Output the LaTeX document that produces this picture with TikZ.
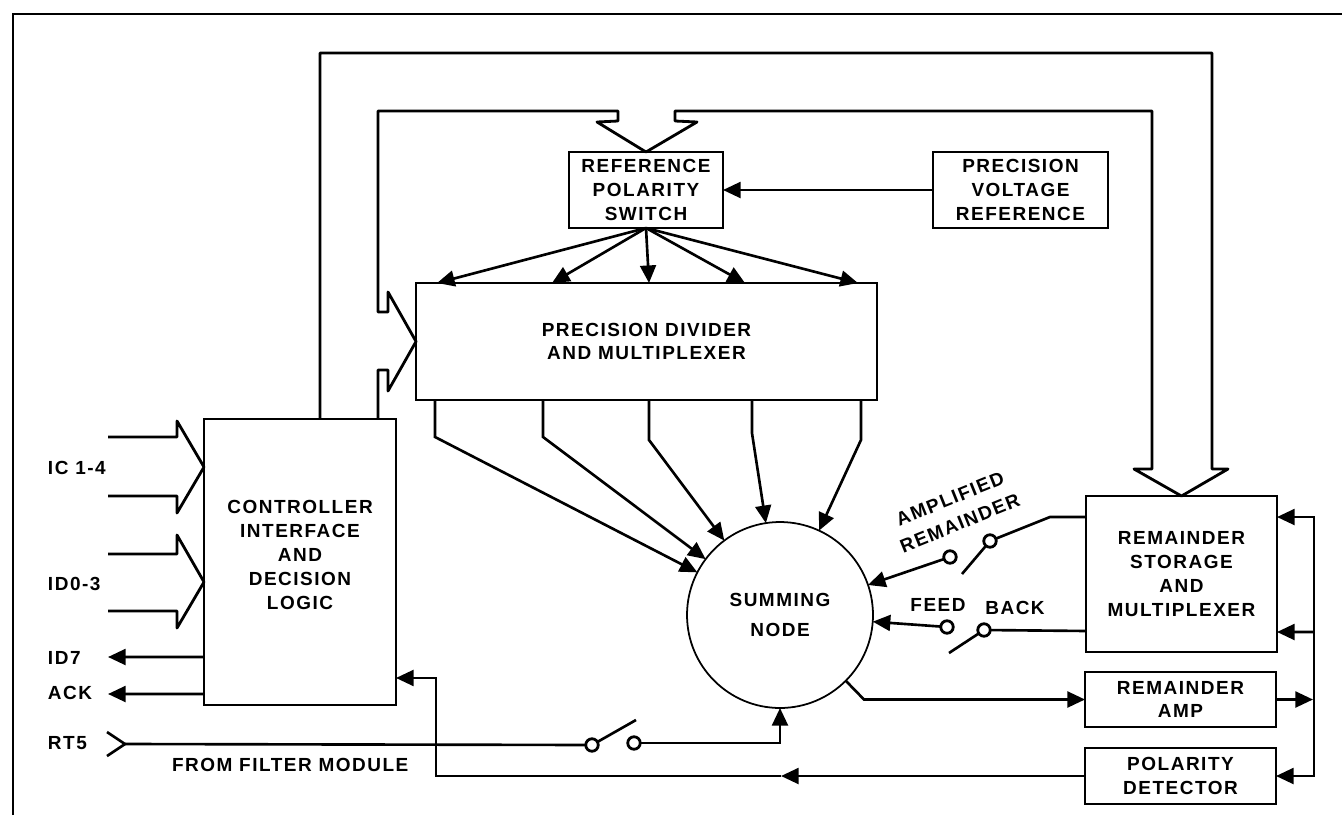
\documentclass[tikz,border=0pt]{standalone}
\usepackage{fontspec}
\setmainfont{Liberation Sans}[LetterSpace=8]
\usetikzlibrary{arrows.meta}
\begin{document}
\begin{tikzpicture}[x=0.02cm,y=-0.02cm,
  font=\fontsize{10.8}{13.6}\selectfont\bfseries,
  box/.style={draw,line width=1.1pt,align=center,inner sep=0pt,outer sep=0pt},
  wire/.style={line width=1.5pt,line join=miter},
  tipA/.tip={Triangle[length=10pt,width=9pt]},
  arr/.style={wire,-tipA},
  bus/.style={line width=1.6pt,line join=round},
  term/.style={draw,line width=1.6pt,fill=white,circle,inner sep=0pt,outer sep=0pt,minimum size=0.25cm},
  lab/.style={inner sep=0pt,outer sep=0pt}]
\useasboundingbox (0,0) rectangle (1342,815);
% frame
\draw[line width=0.9pt] (13,815) -- (13,14) -- (1342,14);

% boxes
\node[box,minimum width=3.08cm,minimum height=1.52cm] (rps) at (646,190) {REFERENCE\\POLARITY\\SWITCH};
\node[box,minimum width=3.5cm,minimum height=1.52cm] (pvr) at (1020.5,190) {PRECISION\\VOLTAGE\\REFERENCE};
\node[box,minimum width=9.22cm,minimum height=2.34cm] (div) at (646.5,341.5) {PRECISION DIVIDER\\AND MULTIPLEXER};
\node[box,minimum width=3.84cm,minimum height=5.72cm] (ctrl) at (300,562) {CONTROLLER\\INTERFACE\\AND\\DECISION\\LOGIC\\[-5.6pt]};
\node[box,minimum width=3.82cm,minimum height=3.12cm] (rsm) at (1181.5,574) {REMAINDER\\STORAGE\\AND\\MULTIPLEXER};
\node[box,minimum width=3.82cm,minimum height=1.1cm] (ramp) at (1180.5,699.5) {REMAINDER\\AMP};
\node[box,minimum width=3.82cm,minimum height=1.12cm] (pdet) at (1180.5,776) {POLARITY\\DETECTOR};
\node[draw,circle,line width=1.0pt,minimum size=3.72cm,inner sep=0pt,outer sep=0pt,align=center,
  font=\fontsize{10.8}{17}\selectfont\bfseries] (sum) at (780,615) {SUMMING\\NODE};

% switch terminals
\node[term] (s1a) at (592,745) {};
\node[term] (s1b) at (634,743) {};
\node[term] (s2a) at (950,557) {};
\node[term] (s2b) at (990,541) {};
\node[term] (s3a) at (947,627) {};
\node[term] (s3b) at (984,630) {};
\coordinate (b1) at (636,720);
\coordinate (b2) at (962,574);
\coordinate (b3) at (949,653);

% labels
\node[lab,anchor=west] (lic) at (48,468) {IC 1-4};
\node[lab,anchor=west] (lid) at (48,584) {ID0-3};
\node[lab,anchor=west] (lid7) at (48,658) {ID7};
\node[lab,anchor=west] (lack) at (48,693) {ACK};
\node[lab,anchor=west] (lrt) at (48,743) {RT5};
\node[lab,anchor=west] (lfrom) at (172,765) {FROM FILTER MODULE};
\node[lab,rotate=22,align=center,font=\fontsize{10.8}{15}\selectfont\bfseries] (lamp) at (955,511) {AMPLIFIED\\REMAINDER};
\node[lab] (lfeed) at (938,605) {FEED};
\node[lab] (lback) at (1015,608) {BACK};

% free ends
\coordinate (icA) at (108,437);
\coordinate (icB) at (108,496);
\coordinate (idA) at (108,554);
\coordinate (idB) at (108,611);
\coordinate (id7) at (108,657);
\coordinate (ack) at (108,694);
\coordinate (rt5) at (125,744);

% big hollow bus
\draw[bus] ([xshift=2.32cm]ctrl.north west) -- (320,53) -- (1212,53) -- (1212,469) -- (1228,469)
  -- (rsm.north) -- (1134,469) -- (1152,469) -- (1152,111) -- (675,111) -- (675,121) -- (697,122)
  -- (rps.north) -- (597,122) -- (618,121) -- (618,111) -- (378,111) -- (378,312) -- (388,312)
  -- (388,292) -- (div.west) -- (388,391) -- (388,370) -- (378,370) -- ([xshift=3.48cm]ctrl.north west);

% controller input buses
\draw[bus] (icA) -- (177,437) -- (177,421) -- ([yshift=1.9cm]ctrl.west) -- (177,513) -- (177,496) -- (icB);
\draw[bus] (idA) -- (177,554) -- (177,535) -- ([yshift=-0.4cm]ctrl.west) -- (177,628) -- (177,611) -- (idB);

% controller outputs
\draw[arr] ([yshift=-1.9cm]ctrl.west) -- (id7);
\draw[arr] ([yshift=-2.64cm]ctrl.west) -- (ack);

% RT5 input
\draw[wire,line join=miter] (107,732) -- (rt5) -- (107,756);
\draw[wire] (rt5) -- (s1a);
\draw[wire] (s1a) -- (b1);
\draw[arr] (s1b) -| (sum.south);

% reference voltage
\draw[arr] (pvr.west) -- (rps.east);

% reference switch to divider
\draw[arr] (rps.south) -- ([xshift=0.42cm]div.north west);
\draw[arr] (rps.south) -- ([xshift=2.72cm]div.north west);
\draw[arr] (rps.south) -- ([xshift=4.66cm]div.north west);
\draw[arr] (rps.south) -- ([xshift=6.58cm]div.north west);
\draw[arr] (rps.south) -- ([xshift=8.84cm]div.north west);

% divider to summing node
\draw[arr] ([xshift=0.38cm]div.south west) -- ++(0,37) -- (sum);
\draw[arr] ([xshift=2.54cm]div.south west) -- ++(0,37) -- (sum);
\draw[arr] ([xshift=4.66cm]div.south west) -- ++(0,40) -- (sum);
\draw[arr] ([xshift=6.72cm]div.south west) -- ++(0,33) -- (sum);
\draw[arr] ([xshift=8.90cm]div.south west) -- ++(0,40) -- (sum);

% amplified remainder switch
\draw[wire] ([yshift=1.14cm]rsm.west) -- (1050,517) -- (s2b);
\draw[wire] (s2b) -- (b2);
\draw[arr] (s2a) -- (sum);

% feedback switch
\draw[wire] ([yshift=-1.14cm]rsm.west) -- (s3b);
\draw[wire] (s3b) -- (b3);
\draw[arr] (s3a) -- (sum);

% summing node to remainder amp
\draw[arr] (sum.-45) -- (864,699.5) -- (ramp.west);

% right side bus
\draw[wire,tipA-tipA] ([yshift=1.14cm]rsm.east) -- ++(37,0) |- (pdet.east);
\draw[arr] (1313,632) -- ([yshift=-1.16cm]rsm.east);
\draw[arr] (ramp.east) -- (1313,699.5);

% polarity detector to controller
\draw[arr] (pdet.west) -- (781,776);
\draw[arr] (781,776) -- (436,776) |- ([yshift=-2.32cm]ctrl.east);
\end{tikzpicture}
\end{document}
